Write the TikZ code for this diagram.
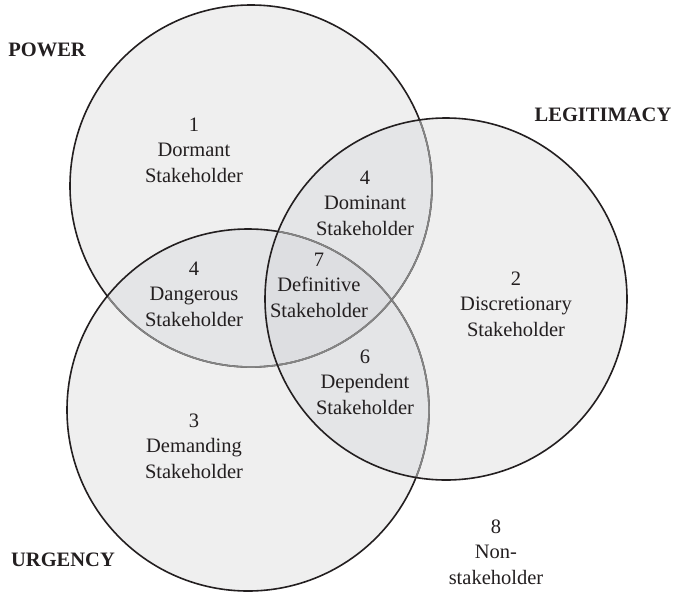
\documentclass[tikz,border=0pt]{standalone}
\usepackage{fontspec}
\setmainfont{Liberation Serif}
\definecolor{ink}{HTML}{231F20}
\definecolor{midline}{HTML}{858585}
\definecolor{onefill}{HTML}{EFEFEF}
\definecolor{twofill}{HTML}{E4E5E7}
\definecolor{threefill}{HTML}{DDDEE1}
\begin{document}
\begin{tikzpicture}[x=1pt,y=-1pt,
  regiontext/.style={align=center, font=\fontsize{20.5}{25.5}\selectfont, text=ink, inner sep=0pt},
  settitle/.style={font=\fontsize{20.5}{25}\selectfont\bfseries, text=ink, inner sep=0pt},
  outerarc/.style={draw=ink, line width=1.6pt},
  innerarc/.style={draw=midline, line width=1.6pt}]
\useasboundingbox (0,0) rectangle (675,592);

% centres of the three attribute circles
\coordinate (P) at (251,186);
\coordinate (L) at (446,299);
\coordinate (U) at (248,410);
\def\rad{181pt}

% base fill of each circle
\fill[onefill] (P) circle[radius=\rad];
\fill[onefill] (L) circle[radius=\rad];
\fill[onefill] (U) circle[radius=\rad];

% pairwise overlaps
\begin{scope}
  \clip (P) circle[radius=\rad];
  \fill[twofill] (L) circle[radius=\rad];
  \fill[twofill] (U) circle[radius=\rad];
\end{scope}
\begin{scope}
  \clip (L) circle[radius=\rad];
  \fill[twofill] (U) circle[radius=\rad];
\end{scope}
% triple overlap
\begin{scope}
  \clip (P) circle[radius=\rad];
  \clip (L) circle[radius=\rad];
  \fill[threefill] (U) circle[radius=\rad];
\end{scope}

% outlines: power
\draw[outerarc] (P) circle[radius=\rad];
\begin{scope}
  \clip (L) circle[radius=\rad];
  \draw[innerarc] (P) circle[radius=\rad];
\end{scope}
\begin{scope}
  \clip (U) circle[radius=\rad];
  \draw[innerarc] (P) circle[radius=\rad];
\end{scope}
% outlines: urgency
\draw[outerarc] (U) circle[radius=\rad];
\begin{scope}
  \clip (L) circle[radius=\rad];
  \draw[innerarc] (U) circle[radius=\rad];
\end{scope}
% outlines: legitimacy
\draw[outerarc] (L) circle[radius=\rad];

% set titles
\node[settitle] (tpower) at (47,50) {POWER};
\node[settitle] (tlegit) at (603,115) {LEGITIMACY};
\node[settitle] (turgency) at (63,560) {URGENCY};

% region labels
\node[regiontext] (r1) at (194,150) {1\\Dormant\\Stakeholder};
\node[regiontext] (r4a) at (365,203) {4\\Dominant\\Stakeholder};
\node[regiontext] (r4b) at (194,294) {4\\Dangerous\\Stakeholder};
\node[regiontext] (r7) at (319,285) {7\\Definitive\\Stakeholder};
\node[regiontext] (r2) at (516,304) {2\\Discretionary\\Stakeholder};
\node[regiontext] (r6) at (365,382) {6\\Dependent\\Stakeholder};
\node[regiontext] (r3) at (194,446) {3\\Demanding\\Stakeholder};
\node[regiontext] (r8) at (496,552) {8\\Non-\\stakeholder};
\end{tikzpicture}
\end{document}
